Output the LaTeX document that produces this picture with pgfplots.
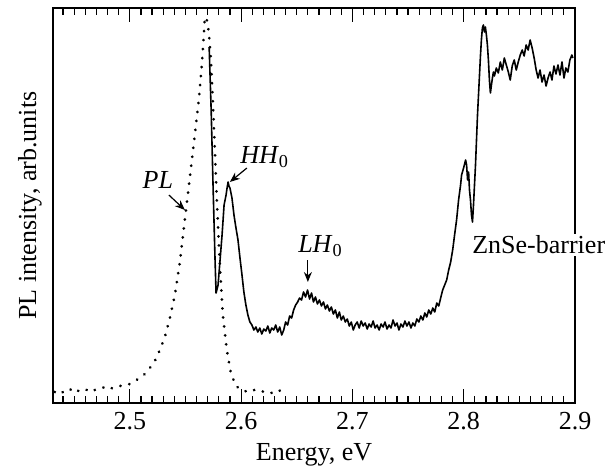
\documentclass[border=0pt]{standalone}
\usepackage{fontspec}
\setmainfont{Liberation Serif}
\usepackage{pgfplots}
\pgfplotsset{compat=1.18}
\usetikzlibrary{arrows.meta}
\newcommand\fs{\fontsize{13}{15.6}\selectfont}
\begin{document}
\begin{tikzpicture}
\begin{axis}[
  scale only axis, width=261pt, height=197.5pt,
  xmin=2.431, xmax=2.9, ymin=0, ymax=395,
  xtick={2.5,2.6,2.7,2.8,2.9},
  xticklabels={2.5,2.6,2.7,2.8,2.9},
  minor xtick={2.44,2.45,2.46,2.47,2.48,2.49,2.51,2.52,2.53,2.54,2.55,2.56,2.57,2.58,2.59,2.61,2.62,2.63,2.64,2.65,2.66,2.67,2.68,2.69,2.71,2.72,2.73,2.74,2.75,2.76,2.77,2.78,2.79,2.81,2.82,2.83,2.84,2.85,2.86,2.87,2.88,2.89},
  ytick=\empty,
  tick align=inside,
  major tick length=7pt, minor tick length=3.5pt,
  every tick/.style={black, line width=0.6pt},
  axis line style={line width=1pt},
  xticklabel style={font=\fs, yshift=-1pt},
  xlabel={Energy, eV},
  ylabel={PL intensity, arb.units},
  label style={font=\fs},
  ylabel style={at={(axis description cs:-0.008,0.5)}, anchor=south},
  clip=false,
]
% PL (dotted)
\addplot[black, line width=1.5pt, line cap=round, dash pattern=on 0.01pt off 4.5pt] coordinates {
(2.4326,11) (2.4371,13) (2.4407,10) (2.4443,12) (2.4479,14) (2.4515,11) (2.4551,13)
(2.4596,12) (2.4641,15) (2.4686,13) (2.4730,14) (2.4775,16) (2.4820,14) (2.4865,16)
(2.4910,17) (2.4955,18) (2.5000,19) (2.5045,22) (2.5090,25) (2.5135,29) (2.5180,35)
(2.5225,42) (2.5270,53) (2.5315,66) (2.5360,85) (2.5405,108) (2.5450,141) (2.5494,183)
(2.5539,225) (2.5584,268) (2.5620,303) (2.5647,338) (2.5665,368) (2.5674,386) (2.5692,383)
(2.5710,371) (2.5728,345) (2.5746,303) (2.5764,253) (2.5782,203) (2.5809,138) (2.5836,88)
(2.5872,53) (2.5908,30) (2.5953,17) (2.6007,13) (2.6061,11) (2.6115,13) (2.6169,11)
(2.6223,12) (2.6277,10) (2.6331,13) (2.6385,11) (2.6421,12)
};
% reflectance (solid)
\addplot[black, line width=0.8pt, line join=round] coordinates {
(2.5713,356) (2.5731,293) (2.5749,213) (2.5766,143) (2.5775,110) (2.5793,118) (2.5811,143)
(2.5829,168) (2.5847,198) (2.5865,208) (2.5874,215) (2.5883,221) (2.5891,217) (2.5900,215)
(2.5918,205) (2.5936,188) (2.5954,175) (2.5972,163) (2.5990,145) (2.6008,128) (2.6025,111)
(2.6043,98) (2.6061,88) (2.6079,81) (2.6097,78) (2.6115,73) (2.6133,76) (2.6150,71)
(2.6168,75) (2.6186,69) (2.6204,74) (2.6222,72) (2.6240,77) (2.6258,70) (2.6275,75)
(2.6293,73) (2.6311,78) (2.6329,71) (2.6347,76) (2.6365,68) (2.6383,73) (2.6400,81)
(2.6418,78) (2.6436,87) (2.6454,85) (2.6472,93) (2.6490,98) (2.6508,101) (2.6525,105)
(2.6543,103) (2.6561,111) (2.6579,106) (2.6597,113) (2.6615,104) (2.6633,110) (2.6650,101)
(2.6668,106) (2.6686,99) (2.6704,103) (2.6722,97) (2.6740,101) (2.6758,94) (2.6775,98)
(2.6793,92) (2.6811,96) (2.6829,89) (2.6847,93) (2.6865,85) (2.6883,91) (2.6900,83)
(2.6918,87) (2.6936,81) (2.6954,84) (2.6972,77) (2.6990,81) (2.7008,73) (2.7025,78)
(2.7043,81) (2.7061,75) (2.7079,82) (2.7097,77) (2.7115,80) (2.7133,74) (2.7150,79)
(2.7168,76) (2.7186,82) (2.7204,75) (2.7222,78) (2.7240,73) (2.7258,79) (2.7276,76)
(2.7293,81) (2.7311,74) (2.7329,78) (2.7347,75) (2.7365,83) (2.7383,77) (2.7401,80)
(2.7418,73) (2.7436,79) (2.7454,76) (2.7472,82) (2.7490,77) (2.7508,81) (2.7526,75)
(2.7543,80) (2.7561,77) (2.7579,84) (2.7597,81) (2.7615,87) (2.7633,83) (2.7651,90)
(2.7668,86) (2.7686,93) (2.7704,89) (2.7722,95) (2.7740,91) (2.7758,100) (2.7776,97)
(2.7793,105) (2.7811,113) (2.7829,118) (2.7847,123) (2.7865,133) (2.7883,141) (2.7901,153)
(2.7918,168) (2.7936,183) (2.7954,203) (2.7972,218) (2.7981,228) (2.7999,235) (2.8017,243)
(2.8026,238) (2.8035,223) (2.8044,231) (2.8052,213) (2.8061,203) (2.8070,188) (2.8079,181)
(2.8088,198) (2.8097,218) (2.8106,238) (2.8115,263) (2.8124,288) (2.8133,308) (2.8142,328)
(2.8151,348) (2.8159,363) (2.8168,375) (2.8177,378) (2.8186,371) (2.8195,376) (2.8204,368)
(2.8213,358) (2.8222,343) (2.8231,323) (2.8240,310) (2.8249,318) (2.8258,325) (2.8267,331)
(2.8276,327) (2.8293,335) (2.8311,330) (2.8329,341) (2.8347,333) (2.8365,345) (2.8383,338)
(2.8401,331) (2.8418,323) (2.8436,337) (2.8454,343) (2.8472,333) (2.8490,341) (2.8508,348)
(2.8526,353) (2.8543,347) (2.8561,358) (2.8579,353) (2.8597,363) (2.8615,355) (2.8633,345)
(2.8651,333) (2.8668,325) (2.8686,333) (2.8704,321) (2.8722,328) (2.8740,317) (2.8758,325)
(2.8776,331) (2.8793,323) (2.8811,337) (2.8829,329) (2.8847,338) (2.8865,328) (2.8883,341)
(2.8901,325) (2.8918,335) (2.8936,331) (2.8954,343) (2.8972,348) (2.8981,345)
};
% annotations
\node[font=\fs\itshape] at (axis cs:2.5252,223) {PL};
\draw[-{Stealth[length=5pt,width=4pt]}, line width=0.6pt] (axis cs:2.5351,208) -- (axis cs:2.5495,193);
\node[font=\fs, anchor=west, inner sep=0pt] at (axis cs:2.5989,246) {\textit{HH}\textsubscript{0}};
\draw[-{Stealth[length=5pt,width=4pt]}, line width=0.6pt] (axis cs:2.6052,235) -- (axis cs:2.5899,221);
\node[font=\fs, anchor=west, inner sep=0pt] at (axis cs:2.6510,157) {\textit{LH}\textsubscript{0}};
\draw[-{Stealth[length=5pt,width=4pt]}, line width=0.6pt] (axis cs:2.6600,143) -- (axis cs:2.6600,121);
\coordinate (zn) at (axis cs:2.8056,158);
\end{axis}
\node[font=\fs, anchor=west, fill=white, inner sep=1pt] at (zn) {ZnSe-barrier};
\pgfresetboundingbox
\path[use as bounding box] ([shift={(-26.5pt,-35pt)}]current axis.south west) rectangle ([shift={(20.5pt,4pt)}]current axis.north east);
\end{tikzpicture}
\end{document}
